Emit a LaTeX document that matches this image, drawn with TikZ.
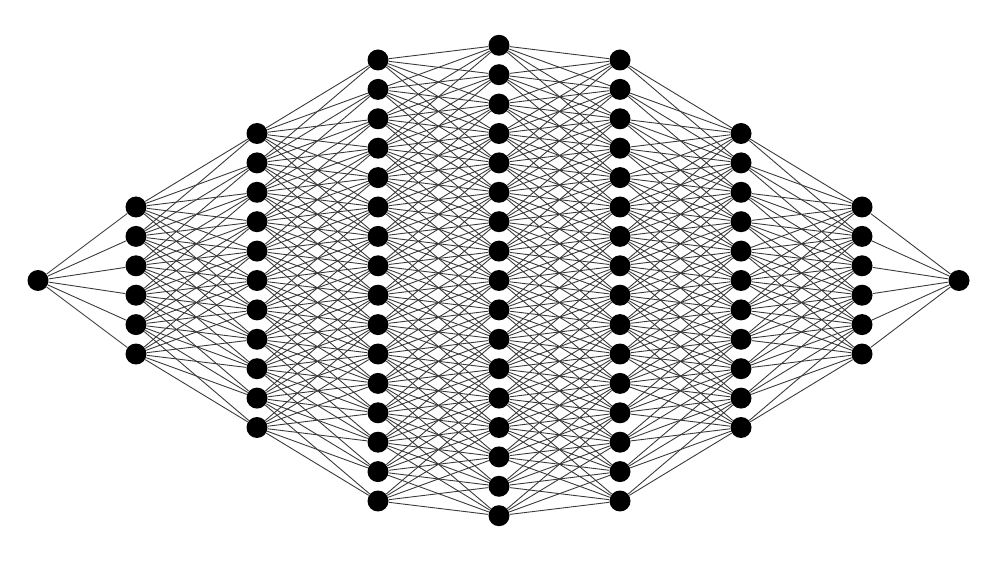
\documentclass[tikz,border=0pt]{standalone}
\usepackage{tikz}
\tikzset{
  neuron/.style={circle, fill=black, draw=none, inner sep=0pt, minimum size=0.42cm},
  edge/.style={draw=black!78, line width=0.5pt}
}
\begin{document}
\begin{tikzpicture}[x=0.02cm, y=-0.02cm]
\fill[white] (0,0) rectangle (1000,563);
\useasboundingbox (0,0) rectangle (1000,563);
% neurons
\foreach \L/\n/\x in {0/1/38,1/6/136,2/11/257,3/16/378,4/17/499,5/16/620,6/11/741,7/6/862,8/1/959}{
  \foreach \i in {1,...,\n}{
    \node[neuron] (n\L-\i) at (\x, {280.5+(\i-(\n+1)/2)*29.4}) {};
  }
}
% connections between neighbouring neurons of adjacent layers
\foreach \L/\n/\M/\m in {0/1/1/6,1/6/2/11,2/11/3/16,3/16/4/17,4/17/5/16,5/16/6/11,6/11/7/6,7/6/8/1}{
  \foreach \i in {1,...,\n}{
    \foreach \j in {1,...,\m}{
      \pgfmathtruncatemacro\ok{abs((\i-(\n+1)/2)-(\j-(\m+1)/2))<3.6 ? 1 : 0}
      \ifnum\ok=1 \draw[edge] (n\L-\i) -- (n\M-\j); \fi
    }
  }
}
\end{tikzpicture}
\end{document}
